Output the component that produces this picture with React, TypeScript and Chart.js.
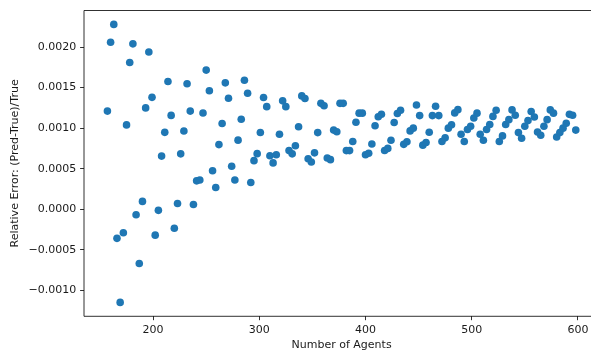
import React, { useEffect, useRef } from 'react';
import { Chart, registerables } from 'chart.js';

Chart.register(...registerables);

const AGENTS = [
  157, 160, 163, 166, 169, 172, 175, 178, 181, 184, 187, 190, 193, 196, 199, 202,
  205, 208, 211, 214, 217, 220, 223, 226, 229, 232, 235, 238, 241, 244, 247, 250,
  253, 256, 259, 262, 265, 268, 271, 274, 277, 280, 283, 286, 289, 292, 295, 298,
  301, 304, 307, 310, 313, 316, 319, 322, 325, 328, 331, 334, 337, 340, 343, 346,
  349, 352, 355, 358, 361, 364, 367, 370, 373, 376, 379, 382, 385, 388, 391, 394,
  397, 400, 403, 406, 409, 412, 415, 418, 421, 424, 427, 430, 433, 436, 439, 442,
  445, 448, 451, 454, 457, 460, 463, 466, 469, 472, 475, 478, 481, 484, 487, 490,
  493, 496, 499, 502, 505, 508, 511, 514, 517, 520, 523, 526, 529, 532, 535, 538,
  541, 544, 547, 550, 553, 556, 559, 562, 565, 568, 571, 574, 577, 580, 583, 586,
  589, 592, 595, 598,
];

const REL_ERROR = [
  0.00121, 0.00206, 0.00228, -0.00036, -0.00115, -0.00029, 0.00104, 0.00181,
  0.00204, -0.000068, -0.00067, 0.000096, 0.00125, 0.00194, 0.00138, -0.00032,
  -0.000014, 0.000655, 0.000948, 0.001575, 0.001157, -0.000236, 0.00007, 0.000683,
  0.000964, 0.001547, 0.00121, 0.000057, 0.00035, 0.000361, 0.001186, 0.001716,
  0.001462, 0.000475, 0.000268, 0.000797, 0.001057, 0.001559, 0.001368, 0.00053,
  0.000361, 0.000852, 0.00111, 0.00159, 0.00143, 0.00033, 0.000599, 0.000685,
  0.000946, 0.001378, 0.001265, 0.00066, 0.000571, 0.000671, 0.000924, 0.001337,
  0.001265, 0.000723, 0.000683, 0.000783, 0.001017, 0.001398, 0.001366, 0.000623,
  0.000583, 0.000695, 0.000945, 0.001306, 0.001277, 0.000631, 0.000611, 0.000976,
  0.000956, 0.001306, 0.001306, 0.000723, 0.000723, 0.000836, 0.001072, 0.001185,
  0.001185, 0.000671, 0.000691, 0.000805, 0.00103, 0.00114, 0.001172, 0.000725,
  0.00075, 0.000851, 0.00107, 0.00118, 0.00122, 0.0008, 0.000833, 0.000966,
  0.001, 0.001285, 0.001155, 0.00079, 0.000823, 0.00095, 0.001155, 0.00127,
  0.001155, 0.000836, 0.00088, 0.001, 0.001042, 0.001188, 0.001228, 0.000924,
  0.000836, 0.000984, 0.001024, 0.001125, 0.001185, 0.000924, 0.00085, 0.000984,
  0.001045, 0.001145, 0.00122, 0.000836, 0.000904, 0.001045, 0.001105, 0.001225,
  0.00116, 0.000945, 0.000876, 0.001024, 0.001093, 0.001205, 0.001137, 0.000952,
  0.000912, 0.001024, 0.001105, 0.001225, 0.001185, 0.00089, 0.000945, 0.001,
  0.00106, 0.00117, 0.00116, 0.000976,
];

const X_TICKS = [200, 300, 400, 500, 600];
const Y_TICKS = [-0.001, -0.0005, 0, 0.0005, 0.001, 0.0015, 0.002];
const X_LABEL = 'Number of Agents';
const Y_LABEL = 'Relative Error: (Pred-True)/True';

const FONT = { family: '"DejaVu Sans", sans-serif', size: 11 };
const INK = '#1a1a1a';

// Draws the top, left and bottom spines (the right one falls outside the cropped picture).
const framePlugin = {
  id: 'frame',
  afterDatasetsDraw(chart: any) {
    const { ctx, chartArea } = chart;
    const { left, top, right, bottom } = chartArea;
    ctx.save();
    ctx.strokeStyle = INK;
    ctx.lineWidth = 0.9;
    ctx.beginPath();
    ctx.moveTo(right + 5, top);
    ctx.lineTo(left, top);
    ctx.lineTo(left, bottom);
    ctx.lineTo(right + 5, bottom);
    ctx.stroke();
    ctx.restore();
  },
};

export default function App() {
  const ref = useRef<HTMLCanvasElement | null>(null);

  useEffect(() => {
    if (!ref.current) return;
    const points = AGENTS.map((a, i) => ({ x: a, y: REL_ERROR[i] }));
    const chart = new Chart(ref.current, {
      type: 'scatter',
      data: {
        datasets: [
          {
            data: points,
            backgroundColor: '#1f77b4',
            borderColor: '#1f77b4',
            borderWidth: 0,
            pointRadius: 3.8,
            pointHoverRadius: 3.8,
          },
        ],
      },
      plugins: [framePlugin],
      options: {
        animation: false,
        responsive: false,
        events: [],
        layout: { padding: { top: 3.4, right: 2.5, left: 0, bottom: 0 } },
        plugins: { legend: { display: false }, tooltip: { enabled: false } },
        scales: {
          x: {
            type: 'linear',
            min: 134.95,
            max: 620.05,
            afterBuildTicks: (s: any) => {
              s.ticks = X_TICKS.map((v) => ({ value: v }));
            },
            afterFit: (s: any) => {
              s.height = 38.7;
            },
            border: { display: false },
            grid: { display: true, drawOnChartArea: false, drawTicks: true, tickLength: 3.9, color: INK, lineWidth: 0.9 },
            ticks: { color: INK, font: FONT, padding: 3, maxRotation: 0, autoSkip: false, callback: (v: any) => String(v) },
            title: { display: true, text: X_LABEL, color: INK, font: FONT, padding: { top: 0, bottom: 3 } },
          },
          y: {
            type: 'linear',
            min: -0.0013215,
            max: 0.0024515,
            afterBuildTicks: (s: any) => {
              s.ticks = Y_TICKS.map((v) => ({ value: v }));
            },
            afterFit: (s: any) => {
              s.width = 84;
            },
            border: { display: false },
            grid: { display: true, drawOnChartArea: false, drawTicks: true, tickLength: 3.9, color: INK, lineWidth: 0.9 },
            ticks: {
              color: INK,
              font: FONT,
              padding: 3.9,
              autoSkip: false,
              callback: (v: any) => {
                const n = Number(v);
                const s = Math.abs(n).toFixed(4);
                return n < -1e-12 ? '\u2212' + s : s;
              },
            },
            title: { display: true, text: Y_LABEL, color: INK, font: FONT, padding: { top: 9, bottom: 0 } },
          },
        },
      },
    });
    return () => chart.destroy();
  }, []);

  return (
    <div style={{ position: 'fixed', left: 0, top: 0, width: 591, height: 355, overflow: 'hidden', background: '#fff' }}>
      <canvas ref={ref} width={603} height={355} style={{ display: 'block' }} />
    </div>
  );
}
